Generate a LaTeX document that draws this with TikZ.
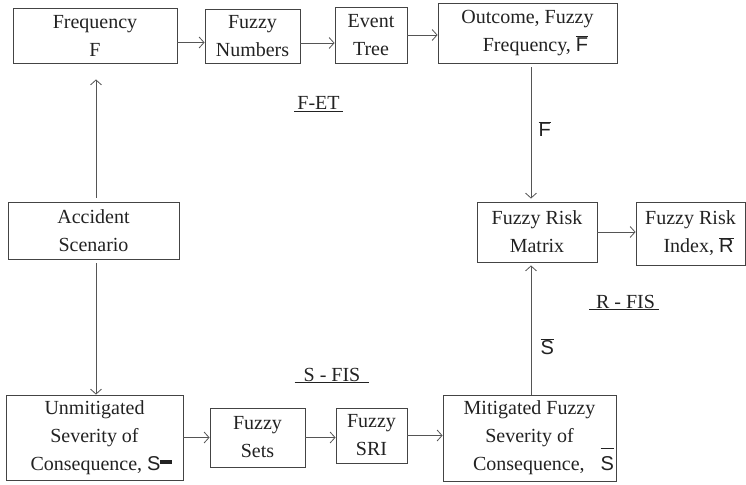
\documentclass[tikz,border=0pt]{standalone}
\usepackage{fontspec}
\setmainfont{Liberation Serif}
\newfontfamily\sansf{Liberation Sans}
\usetikzlibrary{arrows.meta}
\definecolor{lnkgray}{HTML}{555555}
\definecolor{boxgray}{HTML}{444444}
\definecolor{txtgray}{HTML}{222222}
\newcommand{\barsym}[1]{{\sansf$\overline{\mbox{#1}}$}}
\newcommand{\tallbar}[1]{\smash{\sansf$\overline{\rule{0pt}{21pt}\mbox{#1}}$}}

\begin{document}
\begin{tikzpicture}[x=1pt,y=-1pt,
  blk/.style={draw=boxgray,line width=0.8pt,inner sep=0pt,align=center,text=txtgray,
    font=\fontsize{20}{28}\selectfont},
  lnk/.style={draw=lnkgray,line width=0.8pt},
  arr/.style={lnk,-{Straight Barb[length=5pt,width=11pt]}},
  tag/.style={inner sep=0pt,anchor=base,text=txtgray,font=\fontsize{20}{24}\selectfont}]
  \useasboundingbox (0,0) rectangle (746,484);

  \node[blk,minimum width=164pt,minimum height=55pt] (freq) at (95,35.5) {Frequency\\F};
  \node[blk,minimum width=95pt,minimum height=54pt] (fuzzynum) at (252.5,36) {Fuzzy\\Numbers};
  \node[blk,minimum width=72pt,minimum height=56pt] (event) at (371,35) {Event\\Tree};
  \node[blk,minimum width=179pt,minimum height=60pt] (outcome) at (527.5,33)
    {Outcome, Fuzzy\\\hspace*{16pt}Frequency, \barsym{F}};
  \node[blk,minimum width=171pt,minimum height=57pt] (accident) at (93.5,230.5) {Accident\\Scenario};
  \node[blk,minimum width=120pt,minimum height=60pt] (matrix) at (537,232) {Fuzzy Risk\\Matrix};
  \node[blk,minimum width=109pt,minimum height=63pt] (index) at (690.5,233.5)
    {Fuzzy Risk\\\hspace*{16pt}Index, \barsym{R}};
  \node[blk,minimum width=177pt,minimum height=85pt] (unmit) at (94.5,437.5)
    {Unmitigated\\Severity of\\\hspace*{14pt}Consequence, {\sansf S}\rule[6pt]{12pt}{4pt}};
  \node[blk,minimum width=95pt,minimum height=59pt] (sets) at (257.5,437.5) {Fuzzy\\Sets};
  \node[blk,minimum width=71pt,minimum height=55pt] (sri) at (371.5,435.5) {Fuzzy\\SRI};
  \node[blk,minimum width=173pt,minimum height=86pt] (mitig) at (529.5,438)
    {Mitigated Fuzzy\\Severity of\\\hspace*{28pt}Consequence,\hspace{16pt}\tallbar{S}};

  \node[tag] (fet) at (318.5,110) {\underline{\hspace{3pt}F-ET\hspace{3pt}}};
  \node[tag] (sfis) at (332,381) {\underline{\hspace{9pt}S - FIS\hspace{9pt}}};
  \node[tag] (rfis) at (624,308) {\underline{\hspace{7pt}R - FIS\hspace{4pt}}};

  \draw[arr] ([yshift=-7pt]freq.east) -- ([yshift=-7pt]freq.east -| fuzzynum.west);
  \draw[arr] ([yshift=-7pt]fuzzynum.east) -- ([yshift=-7pt]fuzzynum.east -| event.west);
  \draw[arr] (event.east) -- (event.east -| outcome.west);
  \draw[arr] ([xshift=2.5pt,yshift=4pt]accident.north) -- ([xshift=1pt,yshift=-16pt]freq.south);
  \draw[arr] ([xshift=2.5pt,yshift=-4pt]accident.south) -- ([xshift=1.5pt]unmit.north);
  \draw[arr] ([xshift=3.5pt,yshift=-4pt]outcome.south) -- ([xshift=-6pt,yshift=3pt]matrix.north)
    node[pos=0.47,right,xshift=4pt,text=txtgray,font=\fontsize{20}{24}\selectfont] (flab) {\barsym{F}};
  \draw[arr] (matrix.east) -- (matrix.east -| index.west);
  \draw[arr] (sets.west -| unmit.east) -- (sets.west);
  \draw[arr] (sets.east) -- (sets.east -| sri.west);
  \draw[arr] (sri.east) -- (sri.east -| mitig.west);
  \draw[arr] ([xshift=1.5pt]mitig.north) -- ([xshift=-6pt,yshift=-3pt]matrix.south)
    node[pos=0.37,right,xshift=6pt,text=txtgray,font=\fontsize{20}{24}\selectfont] (slab) {\barsym{S}};
\end{tikzpicture}
\end{document}
